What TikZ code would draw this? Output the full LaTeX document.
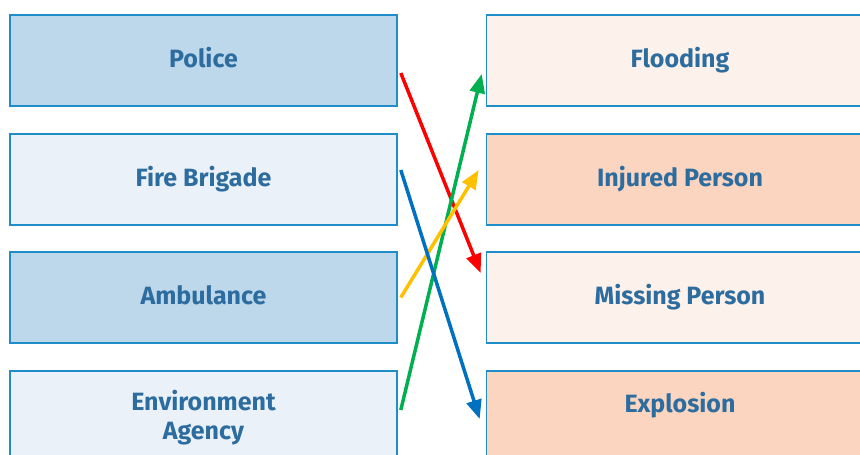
\documentclass[tikz,border=0pt]{standalone}
\usepackage{fontspec}
\setmainfont{Fira Sans}
\usetikzlibrary{positioning,calc,arrows.meta}
\definecolor{colorBD}{HTML}{1E8DC8}
\definecolor{colorTX}{HTML}{2D6C9E}
\definecolor{colorSA}{HTML}{BDD7EB}
\definecolor{colorSB}{HTML}{EAF1F9}
\definecolor{colorIA}{HTML}{FDF1EB}
\definecolor{colorIB}{HTML}{FBD5C0}
\definecolor{colorPOL}{HTML}{FF0000}
\definecolor{colorENV}{HTML}{00B050}
\definecolor{colorAMB}{HTML}{FFC000}
\definecolor{colorFIR}{HTML}{0070C0}
\tikzset{
   every path/.style={>={Triangle[length=19pt,width=15pt]}},
   box/.style={rectangle,draw=colorBD,line width=1.6pt,minimum width=387pt,minimum height=91pt,
      text=colorTX,font=\fontsize{25}{29}\selectfont\bfseries,align=center,inner sep=0pt},
   line/.style={text height=19pt,text depth=6pt},
   sa/.style={box,fill=colorSA},
   sb/.style={box,fill=colorSB},
   ia/.style={box,fill=colorIA},
   ib/.style={box,fill=colorIB},
   pol/.style={->,color=colorPOL,line width=3.5pt},
   env/.style={->,color=colorENV,line width=3.5pt},
   amb/.style={->,color=colorAMB,line width=3.5pt},
   fir/.style={->,color=colorFIR,line width=3.5pt},
}
\begin{document}
\begin{tikzpicture}
      \useasboundingbox (0,0) rectangle (860pt,-455pt);

      % services
      \node (police) [sa, line] at (203.5pt,-60.5pt) {Police};

      \node (fire) [sb, line, below of = police, node distance = 119pt] {Fire Brigade};

      \node (amb) [sa, line, below of = fire, node distance = 118pt] {Ambulance};

      \node (env) [sb, below of = amb, node distance = 119pt, text height=52pt, text depth=6pt] {Environment\\Agency};

      % incidents
      \node (flood) [ia, line, right of = police, node distance = 476.5pt] {Flooding};

      \node (injured) [ib, line, right of = fire, node distance = 476.5pt] {Injured Person};

      \node (missing) [ia, line, right of = amb, node distance = 476.5pt] {Missing Person};

      \node (explosion) [ib, right of = env, node distance = 476.5pt, text depth=28pt] {Explosion};

      \draw[pol] ($(police.east)+(3pt,-12.5pt)$) -- ($(missing.west)+(-5pt,24.5pt)$);
      \draw[env] ($(env.east)+(3pt,6.5pt)$) -- ($(flood.west)+(-4pt,-13.5pt)$);
      \draw[amb] ($(amb.east)+(3pt,0pt)$) -- ($(injured.west)+(-7pt,9.5pt)$);
      \draw[fir] ($(fire.east)+(3pt,9.5pt)$) -- ($(explosion.west)+(-6pt,-2.5pt)$);
\end{tikzpicture}
\end{document}
